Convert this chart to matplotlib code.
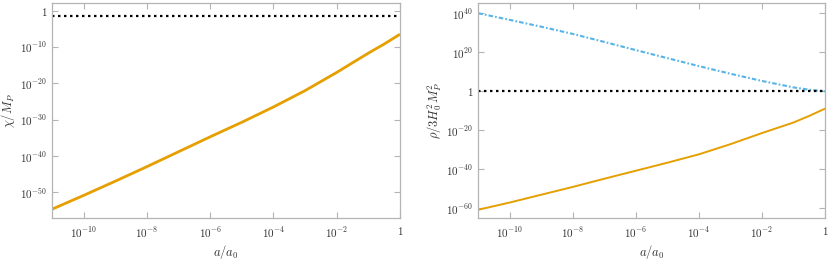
import matplotlib
matplotlib.use("Agg")
import matplotlib.pyplot as plt
import numpy as np

plt.rcParams['mathtext.fontset'] = 'cm'
plt.rcParams['font.family'] = 'serif'
plt.rcParams['font.serif'] = ['DejaVu Serif']

# scale factor a/a0, as log10
log_a = np.array([-11, -10, -9, -8, -7, -6, -5, -4, -3, -2, -1, -0.5, 0])

# left panel: chi / M_P (log10)
log_chi = np.array([-54.6, -50.8, -46.9, -42.9, -38.8, -34.7, -30.7,
                    -26.5, -22.0, -17.0, -11.7, -9.2, -6.5])
log_chi_ref = -1.5

# right panel: rho / 3 H0^2 MP^2 (log10)
log_rho_field = np.array([-60.7, -57.0, -53.0, -49.0, -44.8, -40.7, -36.6,
                          -32.3, -27.1, -21.4, -16.0, -12.6, -8.9])
log_rho_tot = np.array([40.0, 36.6, 33.1, 29.4, 25.3, 21.1, 17.0,
                        12.9, 9.0, 5.3, 2.0, 0.8, 0.0])
log_rho_ref = 0.0

x_ticks = [1e-10, 1e-8, 1e-6, 1e-4, 1e-2, 1]
x_labels = [r'$10^{-10}$', r'$10^{-8}$', r'$10^{-6}$', r'$10^{-4}$', r'$10^{-2}$', r'$1$']
y1_ticks = [1, 1e-10, 1e-20, 1e-30, 1e-40, 1e-50]
y1_labels = [r'$1$', r'$10^{-10}$', r'$10^{-20}$', r'$10^{-30}$', r'$10^{-40}$', r'$10^{-50}$']
y2_ticks = [1e40, 1e20, 1, 1e-20, 1e-40, 1e-60]
y2_labels = [r'$10^{40}$', r'$10^{20}$', r'$1$', r'$10^{-20}$', r'$10^{-40}$', r'$10^{-60}$']

orange = '#E69F00'
blue = '#56B4E9'
frame = '#b4b4b4'
txt = '#333333'

fig = plt.figure(figsize=(8.31, 2.61), dpi=100)
ax1 = fig.add_axes([0.0626, 0.1636, 0.4187, 0.8237])
ax2 = fig.add_axes([0.5756, 0.1636, 0.4172, 0.8237])

a = 10.0 ** log_a


def style(ax, yt, yl, ylab):
    ax.set_xscale('log')
    ax.set_yscale('log')
    ax.set_xlim(1e-11, 1)
    ax.set_xticks(x_ticks)
    ax.set_xticklabels(x_labels)
    ax.set_yticks(yt)
    ax.set_yticklabels(yl)
    ax.minorticks_off()
    ax.tick_params(direction='in', length=4, width=0.8, color=frame,
                   labelcolor=txt, labelsize=8, top=True, right=True)
    ax.tick_params(axis='x', pad=5)
    for s in ax.spines.values():
        s.set_color(frame)
        s.set_linewidth(0.9)
    ax.set_xlabel(r'$a/a_0$', fontsize=9, color=txt, labelpad=2)
    ax.set_ylabel(ylab, fontsize=9, color=txt, labelpad=2)


ax1.plot(a, np.full_like(a, 10.0 ** log_chi_ref), color='black', lw=1.6,
         linestyle=(0, (1.1, 1.6)))
ax1.plot(a, 10.0 ** log_chi, color=orange, lw=2.0, solid_capstyle='butt')
ax1.set_ylim(10.0 ** -57.1, 10.0 ** 2.0)
style(ax1, y1_ticks, y1_labels, r'$\chi/M_P$')

ax2.plot(a, 10.0 ** log_rho_tot, color=blue, lw=1.5,
         linestyle=(0, (2.2, 1.0, 0.8, 1.0)))
ax2.plot(a, np.full_like(a, 10.0 ** log_rho_ref), color='black', lw=1.6,
         linestyle=(0, (1.1, 1.6)))
ax2.plot(a, 10.0 ** log_rho_field, color=orange, lw=1.4)
ax2.set_ylim(10.0 ** -65.1, 10.0 ** 45.1)
style(ax2, y2_ticks, y2_labels, r'$\rho/3H_0^2M_P^2$')

fig.savefig('out.png', dpi=100)
